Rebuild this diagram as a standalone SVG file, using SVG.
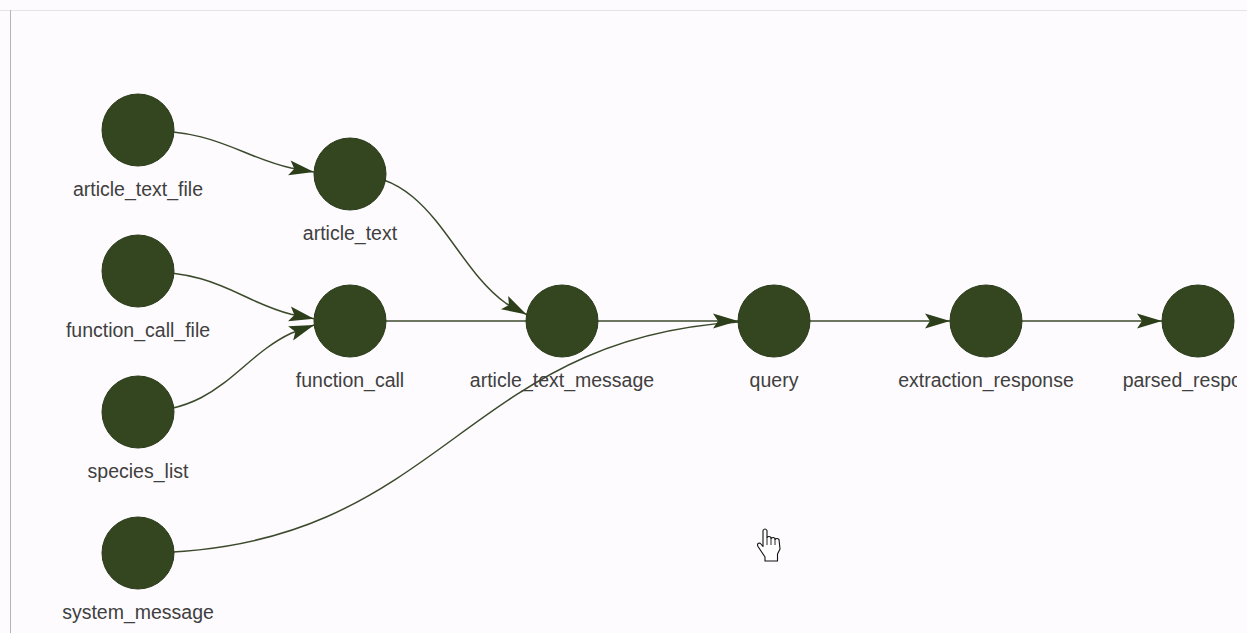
<svg xmlns="http://www.w3.org/2000/svg" width="1247" height="633" viewBox="0 0 1247 633">
  <style>
    .node circle { fill: #33461f; stroke: #2a3a19; stroke-width: 1; }
    .node text { font-family: "Liberation Sans", Arial, sans-serif; font-size: 19.5px; fill: #404040; text-anchor: middle; }
    .edge { fill: none; stroke: #3b4a2c; stroke-width: 1.5; }
    .arrow { marker-end: url(#arrowhead); }
  </style>
  <defs>
    <marker id="arrowhead" markerUnits="userSpaceOnUse" viewBox="-26 -9 28 18" refX="0" refY="0" markerWidth="28" markerHeight="18" orient="auto">
      <path d="M0,0 L-25,-7.5 L-20,0 L-25,7.5 Z" fill="#2c3f1a"/>
    </marker>
    <clipPath id="view">
      <rect x="0" y="0" width="1237" height="633"/>
    </clipPath>
  </defs>
  <rect x="0" y="0" width="1247" height="633" fill="#fdfbfd"/>
  <line x1="0" y1="10.5" x2="1247" y2="10.5" stroke="#e6e4e6" stroke-width="1"/>
  <line x1="10.5" y1="10" x2="10.5" y2="633" stroke="#b4b4b4" stroke-width="1"/>

  <g clip-path="url(#view)">
    <g id="connectors">
      <path class="edge arrow" d="M138,130 C219.6,130 238.4,156.1 291.1,168.1 L314,172"/>
      <path class="edge arrow" d="M350,174 C433.2,174 451.1,264.6 506.2,303.5 L526.5,314.6"/>
      <path class="edge arrow" d="M138,271 C219.6,271 238.4,300.6 291.1,314.3 L314,318.8"/>
      <path class="edge arrow" d="M138,412 C219.6,412 238.4,358.05 291.1,333.2 L314.2,325"/>
      <path class="edge" d="M350,321 L562,321"/>
      <path class="edge" d="M138,553 C456,553 456,321 774,321"/>
      <path class="edge arrow" d="M562,321 L738,321"/>
      <path class="edge arrow" d="M774,321 L950,321"/>
      <path class="edge arrow" d="M986,321 L1162,321"/>
    </g>

    <g id="node-article_text_file" class="node">
      <circle cx="138" cy="130" r="36"/>
      <text x="138" y="196">article_text_file</text>
    </g>
    <g id="node-function_call_file" class="node">
      <circle cx="138" cy="271" r="36"/>
      <text x="138" y="337">function_call_file</text>
    </g>
    <g id="node-species_list" class="node">
      <circle cx="138" cy="412" r="36"/>
      <text x="138" y="478">species_list</text>
    </g>
    <g id="node-system_message" class="node">
      <circle cx="138" cy="553" r="36"/>
      <text x="138" y="619">system_message</text>
    </g>
    <g id="node-article_text" class="node">
      <circle cx="350" cy="174" r="36"/>
      <text x="350" y="240">article_text</text>
    </g>
    <g id="node-function_call" class="node">
      <circle cx="350" cy="321" r="36"/>
      <text x="350" y="387">function_call</text>
    </g>
    <g id="node-article_text_message" class="node">
      <circle cx="562" cy="321" r="36"/>
      <text x="562" y="387">article_text_message</text>
    </g>
    <g id="node-query" class="node">
      <circle cx="774" cy="321" r="36"/>
      <text x="774" y="387">query</text>
    </g>
    <g id="node-extraction_response" class="node">
      <circle cx="986" cy="321" r="36"/>
      <text x="986" y="387">extraction_response</text>
    </g>
    <g id="node-parsed_response" class="node">
      <circle cx="1198" cy="321" r="36"/>
      <text x="1198" y="387">parsed_response</text>
    </g>
  </g>

  <g id="cursor">
    <path d="M763,530.5 Q765,527.5 767,530.5 L767,537.5 Q769,535.5 771,537.5 L771,538.5 Q773,536.5 775,538.5 L775,539.5 Q777,537.5 779,539.5 L780,549 L777.5,554 L777.5,561 L765,561 L765,557 L758,546.5 Q756.5,543 760,543 L763,546.5 Z" fill="#ffffff" stroke="#111111" stroke-width="1.1" stroke-linejoin="round"/>
    <path d="M767,537.5 L767,545 M771,538.5 L771,545 M775,539.5 L775,545" fill="none" stroke="#111111" stroke-width="0.9"/>
  </g>
</svg>
